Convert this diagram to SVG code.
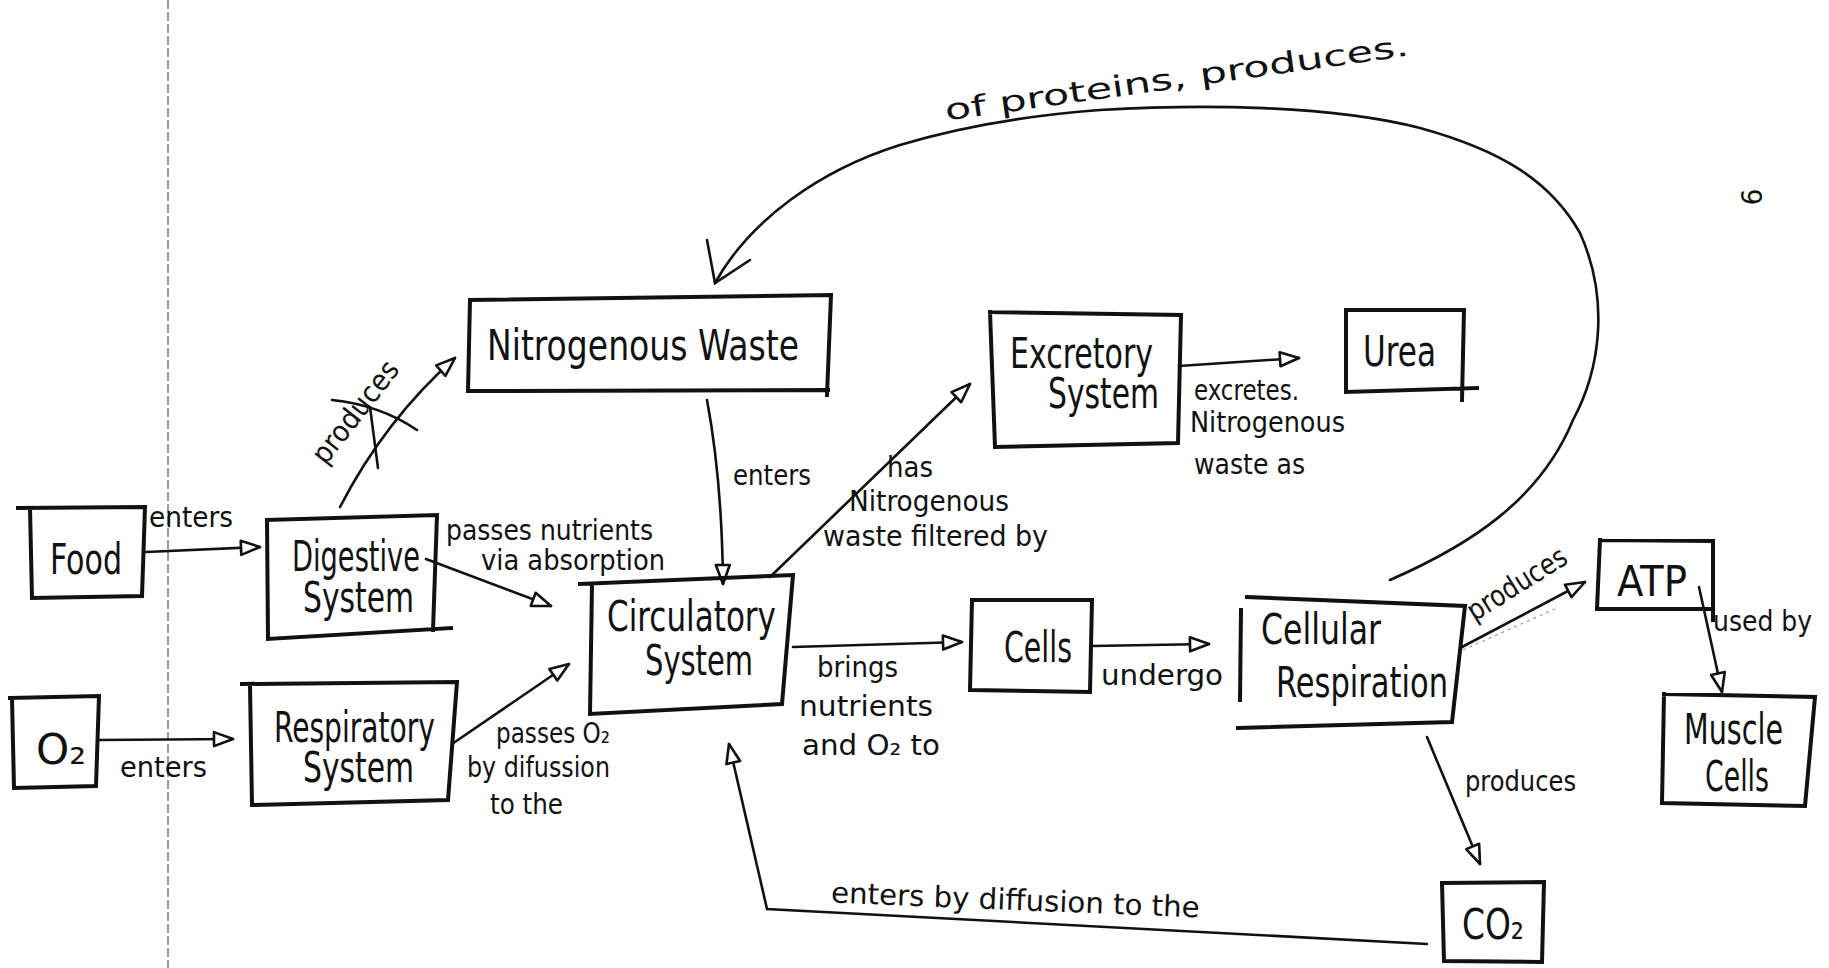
<svg xmlns="http://www.w3.org/2000/svg" width="1829" height="968" viewBox="0 0 1829 968">
  <style>
    .bg { fill: #ffffff; }
    .box { fill: none; stroke: #111; stroke-width: 4; stroke-linecap: square; }
    .ln { fill: none; stroke: #111; stroke-width: 2.6; stroke-linecap: round; }
    .arr { marker-end: url(#tri); }
    .margin { stroke: #555; stroke-width: 1.2; stroke-dasharray: 9 3; }
    .faint { fill: none; stroke: #999; stroke-width: 1.2; stroke-dasharray: 3 4; }
    text { font-family: "Liberation Sans Narrow", "DejaVu Sans Condensed", "Liberation Sans", sans-serif; fill: #111; }
    .n { font-size: 42px; }
    .e { font-size: 29px; }
  </style>
  <defs>
    <!-- hollow triangular arrowhead used on every connector -->
    <marker id="tri" markerUnits="userSpaceOnUse" markerWidth="24" markerHeight="18" viewBox="0 0 24 18" refX="21" refY="9" orient="auto">
      <path d="M2,2 L21,9 L2,16 Z" fill="#fff" stroke="#111" stroke-width="2.6" stroke-linejoin="round"/>
    </marker>
  </defs>

  <rect class="bg" x="0" y="0" width="1829" height="968"/>

  <!-- notebook margin -->
  <line class="margin" x1="168" y1="0" x2="168" y2="968"/>

  <!-- page number -->
  <text class="e" font-size="30" transform="translate(1752,197) rotate(-90)" text-anchor="middle" dominant-baseline="central">6</text>

  <g id="connectors">
    <path class="ln arr" d="M146,552 L260,547"/>
    <path class="ln arr" d="M99,740 L233,739"/>
    <path class="ln arr" d="M426,559 L551,606"/>
    <path class="ln arr" d="M452,744 L569,664"/>
    <path class="ln arr" d="M340,507 Q385,420 455,358"/>
    <path class="ln arr" d="M707,400 Q722,480 723,584"/>
    <path class="ln arr" d="M770,577 L970,384"/>
    <path class="ln arr" d="M1179,366 L1299,358"/>
    <path class="ln arr" d="M793,647 L962,642"/>
    <path class="ln arr" d="M1092,646 L1209,644"/>
    <path class="ln arr" d="M1462,647 L1585,582"/>
    <path class="faint" d="M1463,650 L1557,608"/>
    <path class="ln arr" d="M1699,587 L1722,692"/>
    <path class="ln arr" d="M1427,737 L1480,864"/>
    <path class="ln arr" d="M1427,944 L767,909 L729,744"/>
    <!-- long return loop from cellular respiration back to nitrogenous waste -->
    <path class="ln" stroke-width="3.4" d="M1390,580 C1470,545 1540,500 1573,420 C1600,370 1610,300 1580,233 C1550,180 1500,150 1420,128 C1330,105 1200,104 1100,110 C1020,116 950,130 900,145 C820,170 750,220 715,283"/>
    <path class="ln" stroke-width="3.4" d="M707,240 L715,283 L750,260"/>
    <!-- struck-out strokes over the "produces" label -->
    <path class="ln" d="M332,400 Q380,405 417,430"/>
    <path class="ln" d="M370,407 L378,468"/>
  </g>

  <g id="edge-labels">
    <text class="e" x="149" y="527" textLength="84" lengthAdjust="spacingAndGlyphs">enters</text>
    <text class="e" x="120" y="777" textLength="87" lengthAdjust="spacingAndGlyphs">enters</text>
    <text class="e" x="446" y="540" textLength="207" lengthAdjust="spacingAndGlyphs">passes nutrients</text>
    <text class="e" x="481" y="570" textLength="184" lengthAdjust="spacingAndGlyphs">via absorption</text>
    <text class="e" x="496" y="743" textLength="114" lengthAdjust="spacingAndGlyphs">passes O₂</text>
    <text class="e" x="467" y="777" textLength="143" lengthAdjust="spacingAndGlyphs">by difussion</text>
    <text class="e" x="490" y="814" textLength="73" lengthAdjust="spacingAndGlyphs">to the</text>
    <text class="e" text-anchor="middle" transform="translate(363,418) rotate(-52)" textLength="122" lengthAdjust="spacingAndGlyphs">produces</text>
    <text class="e" x="733" y="485" textLength="78" lengthAdjust="spacingAndGlyphs">enters</text>
    <text class="e" x="887" y="477" textLength="46" lengthAdjust="spacingAndGlyphs">has</text>
    <text class="e" x="849" y="511" textLength="160" lengthAdjust="spacingAndGlyphs">Nitrogenous</text>
    <text class="e" x="823" y="546" textLength="225" lengthAdjust="spacingAndGlyphs">waste filtered by</text>
    <text class="e" x="1194" y="400" textLength="105" lengthAdjust="spacingAndGlyphs">excretes.</text>
    <text class="e" x="1190" y="432" textLength="155" lengthAdjust="spacingAndGlyphs">Nitrogenous</text>
    <text class="e" x="1194" y="474" textLength="111" lengthAdjust="spacingAndGlyphs">waste as</text>
    <text class="e" x="817" y="677" textLength="81" lengthAdjust="spacingAndGlyphs">brings</text>
    <text class="e" x="799" y="716" textLength="134" lengthAdjust="spacingAndGlyphs">nutrients</text>
    <text class="e" x="802" y="755" textLength="138" lengthAdjust="spacingAndGlyphs">and O₂ to</text>
    <text class="e" x="1101" y="685" textLength="122" lengthAdjust="spacingAndGlyphs">undergo</text>
    <text class="e" text-anchor="middle" transform="translate(1522,592) rotate(-32)" textLength="112" lengthAdjust="spacingAndGlyphs">produces</text>
    <text class="e" x="1713" y="631" textLength="99" lengthAdjust="spacingAndGlyphs">used by</text>
    <text class="e" x="1465" y="791" textLength="111" lengthAdjust="spacingAndGlyphs">produces</text>
    <text class="e" font-size="36" text-anchor="middle" transform="translate(1015,910) rotate(2.3)" textLength="369" lengthAdjust="spacingAndGlyphs">enters by diffusion to the</text>
    <text class="e" font-size="48" text-anchor="middle" transform="translate(1178,88) rotate(-8)" textLength="468" lengthAdjust="spacingAndGlyphs">of proteins, produces.</text>
  </g>

  <g id="food">
    <path class="box" d="M18,508 L145,507 L142,596 L32,598 L30,508"/>
    <text class="n" font-size="50" x="50" y="574" textLength="72" lengthAdjust="spacingAndGlyphs">Food</text>
  </g>

  <g id="o2">
    <path class="box" d="M10,698 L99,696 L96,786 L14,788 L12,698"/>
    <text class="n" font-size="48" x="36" y="764" textLength="50" lengthAdjust="spacingAndGlyphs">O₂</text>
  </g>

  <g id="digestive-system">
    <path class="box" d="M267,520 L437,515 L433,630 M451,628 L268,639 L267,520"/>
    <text class="n" x="292" y="571" textLength="128" lengthAdjust="spacingAndGlyphs">Digestive</text>
    <text class="n" x="303" y="612" textLength="111" lengthAdjust="spacingAndGlyphs">System</text>
  </g>

  <g id="respiratory-system">
    <path class="box" d="M242,684 L457,682 L448,800 L252,805 L250,685"/>
    <text class="n" x="274" y="742" textLength="161" lengthAdjust="spacingAndGlyphs">Respiratory</text>
    <text class="n" x="303" y="782" textLength="111" lengthAdjust="spacingAndGlyphs">System</text>
  </g>

  <g id="nitrogenous-waste">
    <path class="box" d="M470,300 L831,295 L827,395 M828,390 L468,391 L470,300"/>
    <text class="n" font-size="48" x="487" y="360" textLength="312" lengthAdjust="spacingAndGlyphs">Nitrogenous Waste</text>
  </g>

  <g id="circulatory-system">
    <path class="box" d="M580,584 L793,575 L782,704 L590,714 L592,584"/>
    <text class="n" x="607" y="631" textLength="169" lengthAdjust="spacingAndGlyphs">Circulatory</text>
    <text class="n" x="645" y="675" textLength="108" lengthAdjust="spacingAndGlyphs">System</text>
  </g>

  <g id="excretory-system">
    <path class="box" d="M990,312 L1181,315 L1178,443 L995,447 L990,312"/>
    <text class="n" x="1010" y="368" textLength="143" lengthAdjust="spacingAndGlyphs">Excretory</text>
    <text class="n" x="1048" y="408" textLength="111" lengthAdjust="spacingAndGlyphs">System</text>
  </g>

  <g id="urea">
    <path class="box" d="M1346,310 L1464,310 L1462,400 M1477,388 L1346,392 L1346,310"/>
    <text class="n" x="1363" y="366" textLength="73" lengthAdjust="spacingAndGlyphs">Urea</text>
  </g>

  <g id="cells">
    <path class="box" d="M972,600 L1092,600 L1090,692 L970,690 L972,600"/>
    <text class="n" x="1004" y="662" textLength="68" lengthAdjust="spacingAndGlyphs">Cells</text>
  </g>

  <g id="cellular-respiration">
    <path class="box" d="M1247,597 L1465,606 L1452,722 L1238,728 M1241,610 L1240,700"/>
    <text class="n" x="1261" y="644" textLength="120" lengthAdjust="spacingAndGlyphs">Cellular</text>
    <text class="n" x="1276" y="697" textLength="172" lengthAdjust="spacingAndGlyphs">Respiration</text>
  </g>

  <g id="atp">
    <path class="box" d="M1600,540 L1713,541 L1713,620 M1713,609 L1597,609 L1600,540"/>
    <text class="n" x="1617" y="596" textLength="70" lengthAdjust="spacingAndGlyphs">ATP</text>
  </g>

  <g id="muscle-cells">
    <path class="box" d="M1664,694 L1815,697 L1805,806 L1662,803 L1664,694"/>
    <text class="n" x="1684" y="744" textLength="99" lengthAdjust="spacingAndGlyphs">Muscle</text>
    <text class="n" x="1705" y="791" textLength="64" lengthAdjust="spacingAndGlyphs">Cells</text>
  </g>

  <g id="co2">
    <path class="box" d="M1442,883 L1544,882 L1542,962 L1444,961 L1442,883"/>
    <text class="n" x="1462" y="939" textLength="62" lengthAdjust="spacingAndGlyphs">CO₂</text>
  </g>
</svg>
